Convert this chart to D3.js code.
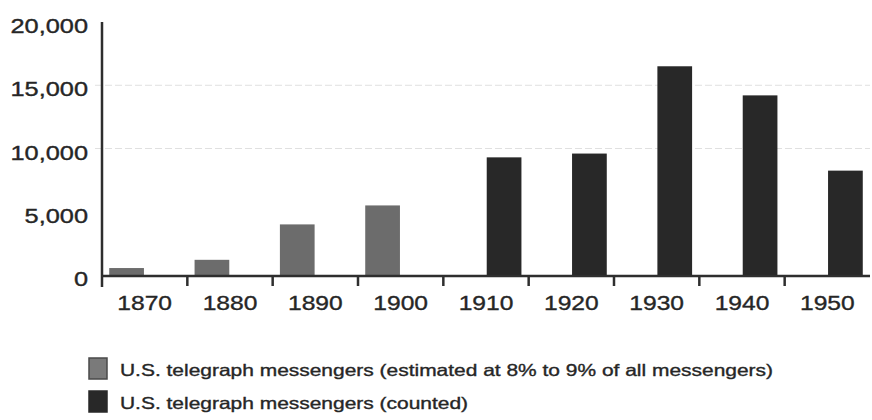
<!DOCTYPE html>
<html>
<head>
<meta charset="utf-8">
<script src="https://cdn.jsdelivr.net/npm/d3@7"></script>
<style>
  body { margin: 0; background: #fff; }
  text { font-family: "Liberation Sans", Arial, Helvetica, sans-serif; fill: #262626; stroke: #262626; stroke-width: 0.35px; }
</style>
</head>
<body>
<div id="chart"></div>
<script>
	// decades on the x axis
	var years = ["1870", "1880", "1890", "1900", "1910", "1920", "1930", "1940", "1950"];
	// estimated messengers (light bars), null where not shown
	var estimated = [550, 1200, 4000, 5500, null, null, null, null, null];
	// counted messengers (dark bars)
	var counted = [null, null, null, null, 9300, 9600, 16500, 14200, 8250];
	var yTicks = [0, 5000, 10000, 15000, 20000];
	var gridTicks = [10000, 15000];
	var seriesKeys = ["estimated", "counted"];
	var seriesLabels = [
		"U.S. telegraph messengers (estimated at 8% to 9% of all messengers)",
		"U.S. telegraph messengers (counted)"
	];
	var colors = {"estimated" : "#6c6c6c", "counted" : "#282828"};

	var width = 872, height = 420;
	// plot edges (window.top is read-only, so no plain "top" here)
	var plotLeft = 102, plotRight = 870, plotTop = 22, plotBottom = 275;

	var svg = d3.select("#chart")
		.append("svg")
		.attr("width", width)
		.attr("height", height);

	var x = d3.scaleBand()
		.domain(years)
		.range([plotLeft, plotRight])
		.padding(0);

	// two slots per decade, estimated on the left, counted on the right
	var xs = d3.scaleBand()
		.domain(seriesKeys)
		.range([0, x.bandwidth()])
		.paddingInner(0.04)
		.paddingOuter(0.2);

	var y = d3.scaleLinear()
		.domain([0, 20000])
		.range([plotBottom, plotTop]);

	// faint grid lines
	svg.append("g")
		.selectAll("line")
		.data(gridTicks)
		.join("line")
		.attr("x1", plotLeft - 7)
		.attr("x2", plotRight)
		.attr("y1", function(d){ return y(d); })
		.attr("y2", function(d){ return y(d); })
		.attr("stroke", "#e0e0e0")
		.attr("stroke-width", 1)
		.attr("stroke-dasharray", "7,3");

	// bars
	var rows = years.map(function(yr, i){
		return {year: yr, estimated: estimated[i], counted: counted[i]};
	});

	seriesKeys.forEach(function(key){
		svg.append("g")
			.selectAll("rect")
			.data(rows.filter(function(d){ return d[key] != null; }))
			.join("rect")
			.attr("x", function(d){ return x(d.year) + xs(key); })
			.attr("width", xs.bandwidth())
			.attr("y", function(d){ return y(d[key]); })
			.attr("height", function(d){ return y(0) - y(d[key]); })
			.attr("fill", colors[key]);
	});

	// y axis
	var gy = svg.append("g")
		.attr("transform", "translate(" + plotLeft + ",0)")
		.call(d3.axisLeft(y).tickValues(yTicks).tickFormat(d3.format(",")).tickSize(0).tickPadding(14));
	gy.select(".domain").remove();
	gy.selectAll("text")
		.attr("dy", "0.55em")
		.style("font-size", "19.5px")
		.attr("fill", "#262626");

	// x axis labels
	var gx = svg.append("g")
		.attr("transform", "translate(0," + plotBottom + ")")
		.call(d3.axisBottom(x).tickSize(0).tickPadding(20));
	gx.select(".domain").remove();
	gx.selectAll("text")
		.attr("dy", "0.71em")
		.style("font-size", "20.5px")
		.attr("fill", "#262626");

	// the original lettering is wide, stretch each label
	function stretch(sel, k) {
		sel.each(function(){
			var w = this.getComputedTextLength();
			d3.select(this)
				.attr("textLength", w * k)
				.attr("lengthAdjust", "spacingAndGlyphs");
		});
	}
	stretch(gy.selectAll("text"), 1.3);
	stretch(gx.selectAll("text"), 1.2);

	// axis lines and decade ticks
	var axisColor = "#2e2e2e";
	svg.append("line")
		.attr("x1", plotLeft).attr("x2", plotLeft)
		.attr("y1", plotTop).attr("y2", plotBottom + 12)
		.attr("stroke", axisColor).attr("stroke-width", 2.5);
	svg.append("line")
		.attr("x1", plotLeft).attr("x2", plotRight)
		.attr("y1", plotBottom + 1).attr("y2", plotBottom + 1)
		.attr("stroke", axisColor).attr("stroke-width", 2.5);
	svg.append("g")
		.selectAll("line")
		.data(years.slice(1))
		.join("line")
		.attr("x1", function(d){ return x(d); })
		.attr("x2", function(d){ return x(d); })
		.attr("y1", plotBottom + 1)
		.attr("y2", plotBottom + 11)
		.attr("stroke", axisColor)
		.attr("stroke-width", 2.5);

	// legend
	var legend = svg.append("g")
		.attr("transform", "translate(89,358)");

	var items = legend.selectAll("g")
		.data(seriesKeys)
		.join("g")
		.attr("transform", function(d, i){ return "translate(0," + (i * 33) + ")"; });

	items.append("rect")
		.attr("width", 18)
		.attr("height", 21)
		.attr("fill", function(d){ return d == "estimated" ? "#7a7a7a" : colors[d]; })
		.attr("stroke", function(d){ return d == "estimated" ? "#4a4a4a" : colors[d]; })
		.attr("stroke-width", 1.5);

	var legendText = items.append("text")
		.attr("x", 31)
		.attr("y", 18)
		.style("font-size", "16.5px")
		.text(function(d, i){ return seriesLabels[i]; });

	// fit the long line to the width it has in the original, same ratio for both
	var k = 653 / legendText.nodes()[0].getComputedTextLength();
	stretch(legendText, k);
</script>
</body>
</html>
